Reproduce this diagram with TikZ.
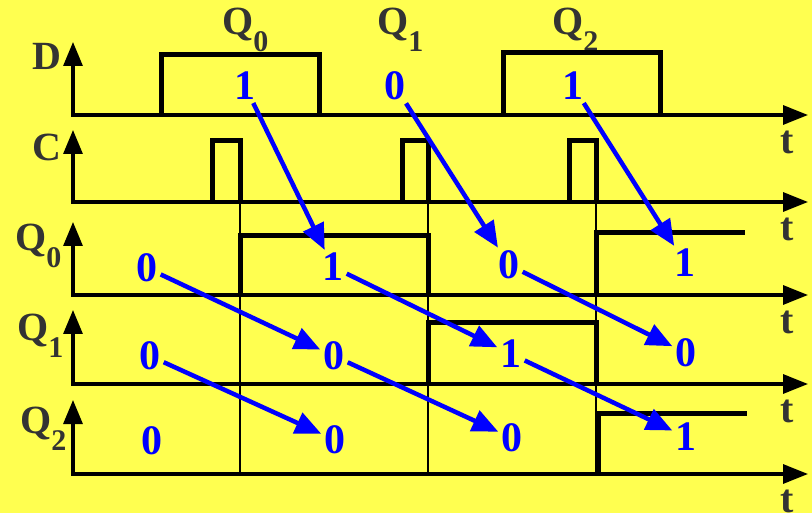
\documentclass[tikz,border=0pt]{standalone}
\usepackage{fontspec}
\setmainfont{Liberation Serif}
\usetikzlibrary{arrows.meta}
\definecolor{paper}{RGB}{255,255,80}
\definecolor{ink}{RGB}{51,51,51}
% Q with a lowered index, as used for the flip-flop outputs
\newcommand{\Qs}[1]{Q\raisebox{-17pt}{\fontsize{30}{30}\selectfont #1}}
\begin{document}
\begin{tikzpicture}[x=1pt,y=-1pt,
  axis/.style={line width=3.2pt,{Triangle[length=24pt,width=19pt]}-{Triangle[length=25pt,width=19pt]}},
  wave/.style={line width=5pt,line join=miter},
  edge/.style={line width=1.8pt},
  sig/.style={text=ink,font=\fontsize{40}{40}\selectfont\bfseries,inner sep=0pt,anchor=base west},
  tlabel/.style={text=ink,font=\fontsize{40}{40}\selectfont\bfseries,inner sep=0pt},
  bit/.style={text=blue,font=\fontsize{42}{42}\selectfont\bfseries,inner sep=3pt},
  flow/.style={blue,line width=4.5pt,-{Triangle[length=26pt,width=22pt]}}
]
\fill[paper] (0,0) rectangle (812,513);
\useasboundingbox (0,0) rectangle (812,513);

% time axes: one per signal (D, C, Q0, Q1, Q2)
\foreach \n/\yb/\yt in {D/115/42, C/202/130, A/295/222, B/384/310, E/474/400}{
  \coordinate (o\n) at (73,\yb);
  \coordinate (v\n) at (73,\yt);
  \coordinate (h\n) at (808,\yb);
  \draw[axis] (v\n) -- (o\n) -- (h\n);
  \node[tlabel] (t\n) at (787,\yb+27) {t};
}

% signal names
\node[sig] (nD) at (32,70) {D};
\node[sig] (nC) at (32,161) {C};
\node[sig] (nQ0) at (15,251) {\Qs{0}};
\node[sig] (nQ1) at (17,341) {\Qs{1}};
\node[sig] (nQ2) at (20,433) {\Qs{2}};

% values captured at each clock edge
\node[sig] (top0) at (222,35) {\Qs{0}};
\node[sig] (top1) at (377,35) {\Qs{1}};
\node[sig] (top2) at (552,35) {\Qs{2}};

% clock edge markers
\draw[edge] (240,202) -- (240,474);
\draw[edge] (428,202) -- (428,474);
\draw[edge] (596,202) -- (596,474);

% D input
\draw[wave] (161,115) -- (161,55) -- (319,55) -- (319,115);
\draw[wave] (503,115) -- (503,53) -- (660,53) -- (660,115);

% clock pulses
\draw[wave] (212,202) -- (212,141) -- (240,141) -- (240,202);
\draw[wave] (402,202) -- (402,141) -- (428,141) -- (428,202);
\draw[wave] (569,202) -- (569,141) -- (596,141) -- (596,202);

% outputs
\draw[wave] (240,295) -- (240,236) -- (428,236) -- (428,295);
\draw[wave] (596,295) -- (596,233) -- (745,233);
\draw[wave] (428,384) -- (428,323) -- (596,323) -- (596,384);
\draw[wave] (598,474) -- (598,413) -- (747,413);

% logic levels
\node[bit] (d1) at (245,86) {1};
\node[bit] (d2) at (395,86) {0};
\node[bit] (d3) at (573,86) {1};
\node[bit] (a1) at (147,268) {0};
\node[bit] (a2) at (333,267) {1};
\node[bit] (a3) at (509,265) {0};
\node[bit] (a4) at (685,263) {1};
\node[bit] (b1) at (150,356) {0};
\node[bit] (b2) at (334,356) {0};
\node[bit] (b3) at (511,354) {1};
\node[bit] (b4) at (686,353) {0};
\node[bit] (c1) at (152,441) {0};
\node[bit] (c2) at (335,440) {0};
\node[bit] (c3) at (512,438) {0};
\node[bit] (c4) at (686,437) {1};

% data shifting through the register
\draw[flow] (d1) -- (a2);
\draw[flow] (d2) -- (a3);
\draw[flow] (d3) -- (a4);
\draw[flow] (a1) -- (b2);
\draw[flow] (a2) -- (b3);
\draw[flow] (a3) -- (b4);
\draw[flow] (b1) -- (c2);
\draw[flow] (b2) -- (c3);
\draw[flow] (b3) -- (c4);
\end{tikzpicture}
\end{document}
